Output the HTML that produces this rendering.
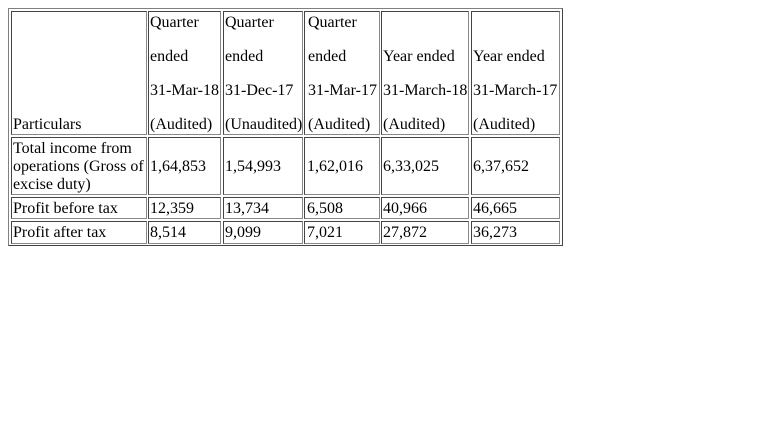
<!DOCTYPE html>
<html><head><meta charset="utf-8">
<style>
body{margin:0;width:764px;height:433px;background:#fff;position:relative;overflow:hidden;font-family:"Liberation Serif",serif;font-size:16px;color:#000}
.tbl{position:absolute;left:8px;top:8px;width:553px;height:236px;border:1px solid #808080;border-right-color:#444;border-bottom-color:#444}
.c{position:absolute;box-sizing:border-box;border:1px solid #444;border-right-color:#888;border-bottom-color:#888}
.t{position:absolute;line-height:18px;white-space:nowrap}
</style></head><body>
<div class="tbl"></div>

<div class="c" style="left:11px;top:11px;width:136px;height:124px"></div>
<div class="c" style="left:148px;top:11px;width:73px;height:124px"></div>
<div class="c" style="left:223px;top:11px;width:80px;height:124px"></div>
<div class="c" style="left:304px;top:11px;width:76px;height:124px"></div>
<div class="c" style="left:381px;top:11px;width:88px;height:124px"></div>
<div class="c" style="left:471px;top:11px;width:89px;height:124px"></div>

<div class="c" style="left:11px;top:137px;width:136px;height:58px"></div>
<div class="c" style="left:148px;top:137px;width:73px;height:58px"></div>
<div class="c" style="left:223px;top:137px;width:80px;height:58px"></div>
<div class="c" style="left:304px;top:137px;width:76px;height:58px"></div>
<div class="c" style="left:381px;top:137px;width:88px;height:58px"></div>
<div class="c" style="left:471px;top:137px;width:89px;height:58px"></div>

<div class="c" style="left:11px;top:197px;width:136px;height:22px"></div>
<div class="c" style="left:148px;top:197px;width:73px;height:22px"></div>
<div class="c" style="left:223px;top:197px;width:80px;height:22px"></div>
<div class="c" style="left:304px;top:197px;width:76px;height:22px"></div>
<div class="c" style="left:381px;top:197px;width:88px;height:22px"></div>
<div class="c" style="left:471px;top:197px;width:89px;height:22px"></div>

<div class="c" style="left:11px;top:221px;width:136px;height:23px"></div>
<div class="c" style="left:148px;top:221px;width:73px;height:23px"></div>
<div class="c" style="left:223px;top:221px;width:80px;height:23px"></div>
<div class="c" style="left:304px;top:221px;width:76px;height:23px"></div>
<div class="c" style="left:381px;top:221px;width:88px;height:23px"></div>
<div class="c" style="left:471px;top:221px;width:89px;height:23px"></div>

<!-- header text -->
<div class="t" style="left:13px;top:116px">Particulars</div>
<div class="t" style="left:150px;top:14px">Quarter</div>
<div class="t" style="left:150px;top:48px">ended</div>
<div class="t" style="left:150px;top:82px">31-Mar-18</div>
<div class="t" style="left:150px;top:116px">(Audited)</div>
<div class="t" style="left:225px;top:14px">Quarter</div>
<div class="t" style="left:225px;top:48px">ended</div>
<div class="t" style="left:225px;top:82px">31-Dec-17</div>
<div class="t" style="left:225px;top:116px">(Unaudited)</div>
<div class="t" style="left:308px;top:14px">Quarter</div>
<div class="t" style="left:308px;top:48px">ended</div>
<div class="t" style="left:308px;top:82px">31-Mar-17</div>
<div class="t" style="left:308px;top:116px">(Audited)</div>
<div class="t" style="left:383px;top:48px">Year ended</div>
<div class="t" style="left:383px;top:82px">31-March-18</div>
<div class="t" style="left:383px;top:116px">(Audited)</div>
<div class="t" style="left:473px;top:48px">Year ended</div>
<div class="t" style="left:473px;top:82px">31-March-17</div>
<div class="t" style="left:473px;top:116px">(Audited)</div>

<!-- body text -->
<div class="t" style="left:13px;top:140px">Total income from</div>
<div class="t" style="left:13px;top:158px">operations (Gross of</div>
<div class="t" style="left:13px;top:176px">excise duty)</div>
<div class="t" style="left:150px;top:158px">1,64,853</div>
<div class="t" style="left:225px;top:158px">1,54,993</div>
<div class="t" style="left:307px;top:158px">1,62,016</div>
<div class="t" style="left:383px;top:158px">6,33,025</div>
<div class="t" style="left:473px;top:158px">6,37,652</div>

<div class="t" style="left:13px;top:200px">Profit before tax</div>
<div class="t" style="left:150px;top:200px">12,359</div>
<div class="t" style="left:225px;top:200px">13,734</div>
<div class="t" style="left:307px;top:200px">6,508</div>
<div class="t" style="left:383px;top:200px">40,966</div>
<div class="t" style="left:473px;top:200px">46,665</div>

<div class="t" style="left:13px;top:224px">Profit after tax</div>
<div class="t" style="left:150px;top:224px">8,514</div>
<div class="t" style="left:225px;top:224px">9,099</div>
<div class="t" style="left:307px;top:224px">7,021</div>
<div class="t" style="left:383px;top:224px">27,872</div>
<div class="t" style="left:473px;top:224px">36,273</div>
</body></html>
